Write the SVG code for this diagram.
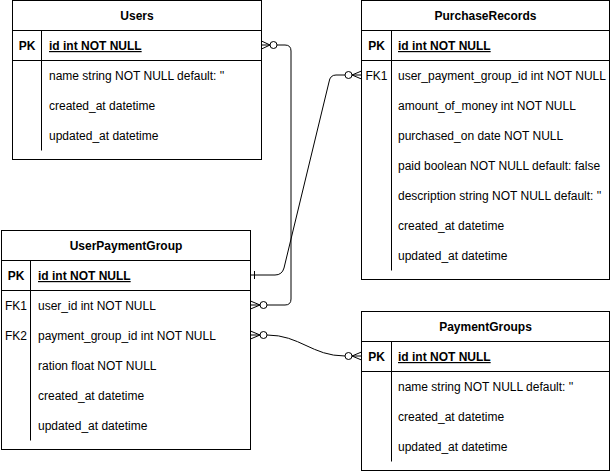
<svg xmlns="http://www.w3.org/2000/svg" width="611" height="471" viewBox="0 0 611 471">
<style>
  .box{fill:#ffffff;stroke:#000000;stroke-width:1}
  .ln{fill:none;stroke:#000000;stroke-width:1}
  .t{font-family:"Liberation Sans",Arial,Helvetica,sans-serif;font-size:12px;fill:#000000}
  .h{font-weight:bold;text-anchor:middle}
  .k{text-anchor:middle}
  .pk{font-weight:bold;text-decoration:underline}
  .b{font-weight:bold}
  .c{fill:#ffffff;stroke:#000000;stroke-width:1}
</style>
<rect x="0" y="0" width="611" height="471" fill="#ffffff"/>
<g id="connectors">
  <!-- Users.id to UserPaymentGroup.user_id -->
  <path class="ln" d="M261.5 41 L270 45 M261.5 45 L270 45 M261.5 49 L270 45"/>
  <circle class="c" cx="273.5" cy="45" r="3.5"/>
  <path class="ln" d="M277 45 L285 45 Q291 45 291 51 L291 299 Q291 305 285 305 L267 305"/>
  <circle class="c" cx="263.5" cy="305" r="3.5"/>
  <path class="ln" d="M250.5 301 L260 305 M250.5 305 L260 305 M250.5 309 L260 305"/>
  <!-- PurchaseRecords.user_payment_group_id to UserPaymentGroup.id -->
  <path class="ln" d="M361.5 71 L352 75 M361.5 75 L352 75 M361.5 79 L352 75"/>
  <circle class="c" cx="348.5" cy="75" r="3.5"/>
  <path class="ln" d="M345 75 L336 75 Q330 75 329 82 L284 268 Q282 275 275 275 L250.5 275"/>
  <path class="ln" d="M254.5 271 L254.5 279"/>
  <!-- UserPaymentGroup.payment_group_id to PaymentGroups.id -->
  <path class="ln" d="M250.5 331 L260 335 M250.5 335 L260 335 M250.5 339 L260 335"/>
  <circle class="c" cx="263.5" cy="335" r="3.5"/>
  <path class="ln" d="M267 335 C300 335 312 356 345 356"/>
  <circle class="c" cx="348.5" cy="356" r="3.5"/>
  <path class="ln" d="M361.5 352 L352 356 M361.5 356 L352 356 M361.5 360 L352 356"/>
</g>
<g id="users">
  <rect class="box" x="12.5" y="0.5" width="249" height="159"/>
  <path class="ln" d="M12.5 30.5 H261.5 M12.5 60.5 H261.5 M41.5 30.5 V150.5"/>
  <text class="t h" x="137" y="20">Users</text>
  <text class="t k b" x="27" y="50">PK</text>
  <text class="t pk" x="49" y="50">id int NOT NULL</text>
  <text class="t" x="49" y="80">name string NOT NULL default: ''</text>
  <text class="t" x="49" y="110">created_at datetime</text>
  <text class="t" x="49" y="140">updated_at datetime</text>
</g>
<g id="purchase-records">
  <rect class="box" x="361.5" y="0.5" width="248" height="279"/>
  <path class="ln" d="M361.5 30.5 H609.5 M361.5 60.5 H609.5 M391.5 30.5 V270.5"/>
  <text class="t h" x="485.5" y="20">PurchaseRecords</text>
  <text class="t k b" x="376.5" y="50">PK</text>
  <text class="t pk" x="398" y="50">id int NOT NULL</text>
  <text class="t k" x="376.5" y="80">FK1</text>
  <text class="t" x="398" y="80">user_payment_group_id int NOT NULL</text>
  <text class="t" x="398" y="110">amount_of_money int NOT NULL</text>
  <text class="t" x="398" y="140">purchased_on date NOT NULL</text>
  <text class="t" x="398" y="170">paid boolean NOT NULL default: false</text>
  <text class="t" x="398" y="200">description string NOT NULL default: ''</text>
  <text class="t" x="398" y="230">created_at datetime</text>
  <text class="t" x="398" y="260">updated_at datetime</text>
</g>
<g id="user-payment-group">
  <rect class="box" x="1.5" y="230.5" width="249" height="219"/>
  <path class="ln" d="M1.5 260.5 H250.5 M1.5 290.5 H250.5 M30.5 260.5 V440.5"/>
  <text class="t h" x="126" y="250">UserPaymentGroup</text>
  <text class="t k b" x="16" y="280">PK</text>
  <text class="t pk" x="38" y="280">id int NOT NULL</text>
  <text class="t k" x="16" y="310">FK1</text>
  <text class="t" x="38" y="310">user_id int NOT NULL</text>
  <text class="t k" x="16" y="340">FK2</text>
  <text class="t" x="38" y="340">payment_group_id int NOT NULL</text>
  <text class="t" x="38" y="370">ration float NOT NULL</text>
  <text class="t" x="38" y="400">created_at datetime</text>
  <text class="t" x="38" y="430">updated_at datetime</text>
</g>
<g id="payment-groups">
  <rect class="box" x="361.5" y="311.5" width="248" height="159"/>
  <path class="ln" d="M361.5 341.5 H609.5 M361.5 371.5 H609.5 M391.5 341.5 V461.5"/>
  <text class="t h" x="485.5" y="331">PaymentGroups</text>
  <text class="t k b" x="376.5" y="361">PK</text>
  <text class="t pk" x="398" y="361">id int NOT NULL</text>
  <text class="t" x="398" y="391">name string NOT NULL default: ''</text>
  <text class="t" x="398" y="421">created_at datetime</text>
  <text class="t" x="398" y="451">updated_at datetime</text>
</g>
</svg>
